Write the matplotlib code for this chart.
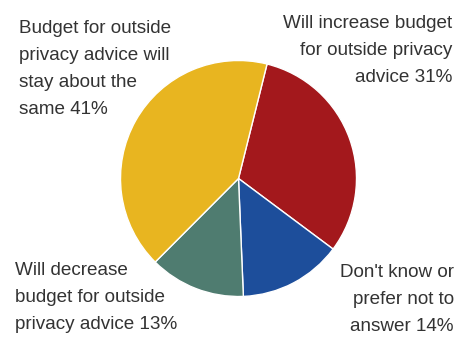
import matplotlib
matplotlib.use("Agg")
import matplotlib.pyplot as plt

labels = ["Will increase budget\nfor outside privacy\nadvice 31%",
          "Don't know or\nprefer not to\nanswer 14%",
          "Will decrease\nbudget for outside\nprivacy advice 13%",
          "Budget for outside\nprivacy advice will\nstay about the\nsame 41%"]
values = [31, 14, 13, 41]
colors = ["#A3181C", "#1D4E9B", "#4F7C70", "#E8B520"]

W, H = 456, 337
fig = plt.figure(figsize=(W / 100, H / 100), dpi=100)
ax = fig.add_axes([0, 0, 1, 1])

ax.pie(values, colors=colors, startangle=76, counterclock=False,
       center=(238.5, H - 178.5), radius=118,
       wedgeprops=dict(edgecolor="white", linewidth=1.0))
ax.set_xlim(0, W)
ax.set_ylim(0, H)
ax.set_aspect("equal")
ax.axis("off")

# label placement: (x, baseline y of last line in image px, ha)
pos = [(452, 82, "right"), (454, 331, "right"), (15, 329, "left"), (19, 114, "left")]
for lab, (x, y, ha) in zip(labels, pos):
    ax.text(x, H - y, lab, ha=ha, va="baseline", fontsize=13.6,
            family="Liberation Sans", color="#333333", linespacing=1.76,
            multialignment=ha)

fig.savefig("out.png", dpi=100)
